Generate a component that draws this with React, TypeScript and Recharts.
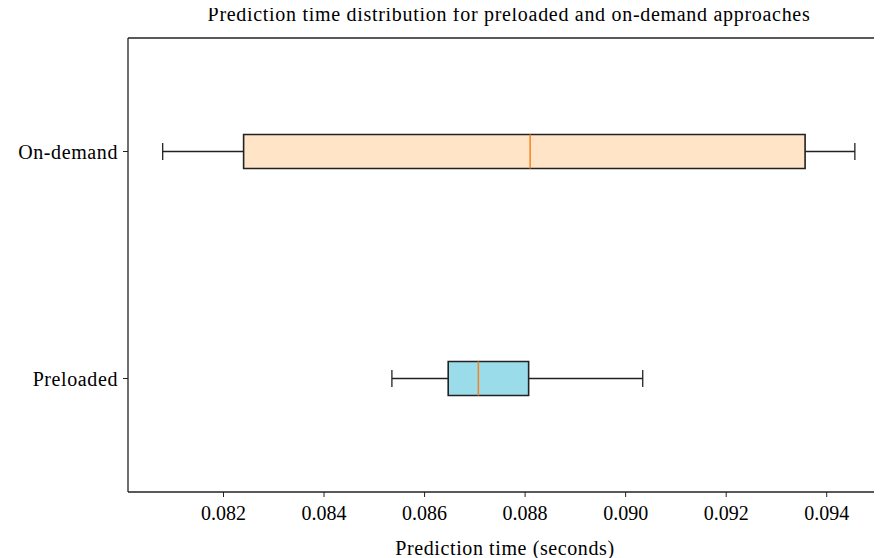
import React from "react";
import {
  ComposedChart,
  ReferenceArea,
  ReferenceLine,
  Scatter,
  XAxis,
  YAxis,
} from "recharts";

// Box statistics per approach (seconds)
const categories = ["Preloaded", "On-demand"];
const positions = [1, 2];
const whiskerLow = [0.08535, 0.08079];
const q1 = [0.08647, 0.0824];
const median = [0.08707, 0.0881];
const q3 = [0.08807, 0.09357];
const whiskerHigh = [0.09034, 0.09456];
const boxFills = ["#9bdcea", "#ffe4c7"];

const xTicks = [0.082, 0.084, 0.086, 0.088, 0.09, 0.092, 0.094];
const xDomain = [0.0801, 0.0951];
const yDomain = [0.5, 2.5];

const FONT = '"Liberation Serif", "DejaVu Serif", serif';
const EDGE = "#222";
const MEDIAN = "#f5841f";
const BOX_HALF = 0.075; // half the box height in category units
const CAP_HALF = 0.0375;

const medianPoints = positions.map((p, i) => ({ x: median[i], y: p }));

const textStyle = { fontSize: 20, fill: "#000", fontFamily: FONT, letterSpacing: 0.6 };

export default function App() {
  return (
    <div style={{ position: "relative", width: 874, height: 550, fontFamily: FONT }}>
      <div
        style={{
          position: "absolute",
          left: 120,
          width: 762,
          top: -4,
          textAlign: "center",
          fontSize: 20,
          lineHeight: "20px",
          letterSpacing: 0.7,
          color: "#000",
        }}
      >
        Prediction time distribution for preloaded and on-demand approaches
      </div>
      <ComposedChart width={874} height={550} margin={{ top: 30, right: 0, bottom: 0, left: 0 }}>
        <XAxis
          type="number"
          dataKey="x"
          domain={xDomain}
          allowDataOverflow
          ticks={xTicks}
          tickFormatter={(v: number) => v.toFixed(3)}
          tickSize={5}
          tickMargin={9}
          height={66}
          axisLine={{ stroke: EDGE, strokeWidth: 1.3 }}
          tickLine={{ stroke: EDGE }}
          tick={{ fontSize: 20, fill: "#000", fontFamily: FONT }}
          label={{
            value: "Prediction time (seconds)",
            position: "insideBottom",
            offset: 3,
            style: textStyle,
          }}
        />
        <YAxis
          type="number"
          dataKey="y"
          domain={yDomain}
          allowDataOverflow
          ticks={positions}
          tickFormatter={(v: number) => categories[positions.indexOf(v)] ?? ""}
          tickSize={5}
          tickMargin={5}
          width={120}
          axisLine={{ stroke: EDGE, strokeWidth: 1.3 }}
          tickLine={{ stroke: EDGE }}
          tick={textStyle}
        />
        <ReferenceLine y={yDomain[1]} stroke={EDGE} strokeWidth={1.3} />

        {positions.map((p, i) => (
          <ReferenceLine
            key={`wl-${i}`}
            segment={[{ x: whiskerLow[i], y: p }, { x: q1[i], y: p }]}
            stroke={EDGE}
            strokeWidth={1.3}
          />
        ))}
        {positions.map((p, i) => (
          <ReferenceLine
            key={`wh-${i}`}
            segment={[{ x: q3[i], y: p }, { x: whiskerHigh[i], y: p }]}
            stroke={EDGE}
            strokeWidth={1.3}
          />
        ))}
        {positions.map((p, i) => (
          <ReferenceLine
            key={`cl-${i}`}
            segment={[{ x: whiskerLow[i], y: p - CAP_HALF }, { x: whiskerLow[i], y: p + CAP_HALF }]}
            stroke={EDGE}
            strokeWidth={1.3}
          />
        ))}
        {positions.map((p, i) => (
          <ReferenceLine
            key={`ch-${i}`}
            segment={[{ x: whiskerHigh[i], y: p - CAP_HALF }, { x: whiskerHigh[i], y: p + CAP_HALF }]}
            stroke={EDGE}
            strokeWidth={1.3}
          />
        ))}
        {positions.map((p, i) => (
          <ReferenceArea
            key={`box-${i}`}
            x1={q1[i]}
            x2={q3[i]}
            y1={p - BOX_HALF}
            y2={p + BOX_HALF}
            fill={boxFills[i]}
            fillOpacity={1}
            stroke={EDGE}
            strokeWidth={1.6}
          />
        ))}
        {positions.map((p, i) => (
          <ReferenceLine
            key={`med-${i}`}
            segment={[{ x: median[i], y: p - BOX_HALF }, { x: median[i], y: p + BOX_HALF }]}
            stroke={MEDIAN}
            strokeWidth={1.5}
          />
        ))}
        <Scatter data={medianPoints} shape={() => <g />} isAnimationActive={false} />
      </ComposedChart>
    </div>
  );
}
